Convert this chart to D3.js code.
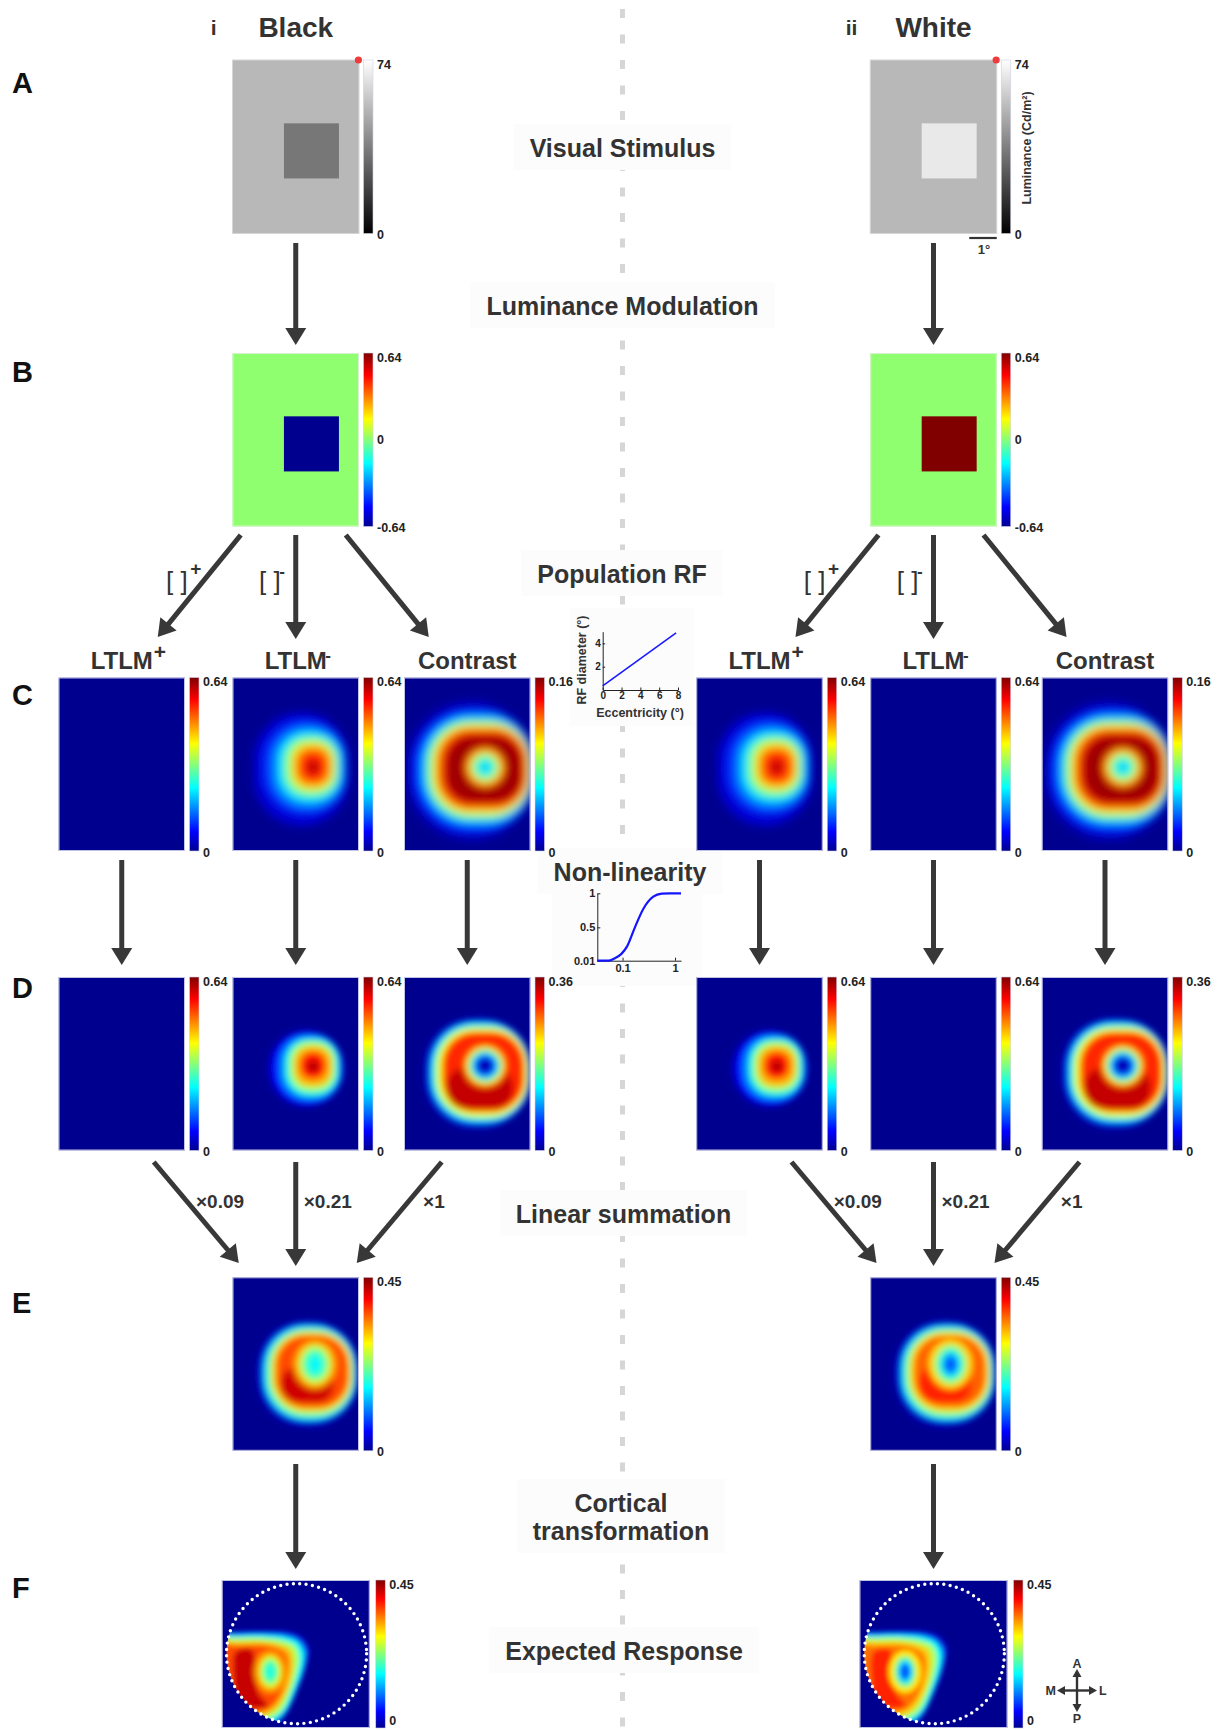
<!DOCTYPE html>
<html>
<head>
<meta charset="utf-8">
<script src="https://cdn.jsdelivr.net/npm/d3@7"></script>
<style>
  html, body { margin: 0; padding: 0; background: #ffffff; }
  svg { display: block; font-family: "Liberation Sans", Arial, sans-serif; }
</style>
</head>
<body>
<svg id="fig" width="1217" height="1730"></svg>
<script>
// ------------------------------------------------------------------
// Data
// ------------------------------------------------------------------
const conditions = ["Black", "White"];
const conditionTags = ["i", "ii"];
const rowLetters = ["A", "B", "C", "D", "E", "F"];
const stageLabels = [["Visual Stimulus"], ["Luminance Modulation"], ["Population RF"],
                     ["Non-linearity"], ["Linear summation"], ["Cortical", "transformation"],
                     ["Expected Response"]];
const channelNames = ["LTLM", "LTLM", "Contrast"];
const channelSigns = ["+", "-", ""];
const rectifierSigns = ["+", "-"];
const weightLabels = ["×0.09", "×0.21", "×1"];

// visual field covered by every map (deg) and the 2° stimulus square
const fieldDeg = [4.6, 6.3];
const squareDeg = [1.87, 2.3, 3.87, 4.3];
const scaleBarDeg = 1;

// A: luminance (Cd/m²)
const luminanceRange = [0, 74];
const luminanceBackground = 53.5;
const luminanceSquare = [34.5, 67.5];          // black, white

// B: luminance modulation
const modulationRange = [-0.64, 0.64];
const modulationBackground = 0;
const modulationSquare = [-0.64, 0.64];

// colour-bar maxima
const ltlmMax = 0.64;
const contrastMaxC = 0.16;
const contrastMaxD = 0.36;
const summedMax = 0.45;
const cortexMax = 0.45;

// population RF size vs eccentricity
const rfEccentricity = [0, 7.8];
const rfDiameter = [0.35, 4.9];
const rfXTicks = [0, 2, 4, 6, 8];
const rfYTicks = [2, 4];

// compressive non-linearity
const nlInput  = [0.033, 0.055, 0.071, 0.095, 0.122, 0.172, 0.248, 0.385, 0.557, 0.8, 1.3];
const nlOutput = [0.01, 0.012, 0.045, 0.11, 0.22, 0.5, 0.77, 0.95, 0.995, 1, 1];
const nlXTicks = [0.1, 1];
const nlYTicks = [0.01, 0.5, 1];

// LTLM response, row C: iso-level outlines [x0, y0, x1, y1, roundness] (deg)
const ltlmRingsC = [
  [0.77, 1.26, 4.23, 5.39, 1.0], [1.13, 1.56, 4.11, 4.96, 1.0], [1.44, 1.80, 4.01, 4.72, 0.95],
  [1.68, 1.99, 3.93, 4.50, 0.9], [1.86, 2.14, 3.85, 4.33, 0.88], [2.02, 2.26, 3.75, 4.18, 0.85],
  [2.17, 2.41, 3.65, 4.05, 0.85], [2.29, 2.53, 3.57, 3.93, 0.85], [2.47, 2.72, 3.38, 3.75, 0.9],
  [2.72, 3.02, 3.14, 3.50, 1.0], [2.84, 3.16, 3.02, 3.36, 1.0]];
const ltlmValuesC = [0.045, 0.10, 0.16, 0.22, 0.29, 0.35, 0.42, 0.48, 0.54, 0.60, 0.63];

// LTLM response after the non-linearity, row D
const ltlmRingsD = [
  [1.26, 1.92, 4.05, 4.74, 1.0], [1.44, 2.00, 4.01, 4.62, 0.95], [1.70, 2.12, 3.94, 4.47, 0.9],
  [1.92, 2.24, 3.85, 4.31, 0.88], [2.10, 2.37, 3.72, 4.13, 0.85], [2.26, 2.53, 3.60, 3.95, 0.85],
  [2.47, 2.73, 3.38, 3.70, 0.9], [2.72, 3.04, 3.14, 3.46, 1.0]];
const ltlmValuesD = [0.026, 0.077, 0.16, 0.256, 0.352, 0.448, 0.544, 0.608];

// contrast response, row C (outer levels, then the central dip)
const contrastRingsC = [
  [0.09, 0.83, 4.75, 5.94, 1.0], [0.33, 1.13, 4.72, 5.63, 0.95], [0.64, 1.38, 4.68, 5.33, 0.9],
  [0.82, 1.53, 4.64, 5.15, 0.88], [1.00, 1.68, 4.58, 4.99, 0.85], [1.15, 1.80, 4.50, 4.84, 0.82],
  [1.37, 1.99, 4.40, 4.66, 0.8], [1.55, 2.15, 4.25, 4.50, 0.8]];
const contrastValuesC = [0.007, 0.024, 0.048, 0.072, 0.096, 0.12, 0.144, 0.155];
const contrastHoleC = [2.95, 3.26];
const contrastHoleRadiiC = [[0.75, 0.75], [0.62, 0.62], [0.5, 0.5], [0.38, 0.38], [0.24, 0.24], [0.13, 0.13]];
const contrastHoleValuesC = [0.13, 0.105, 0.083, 0.066, 0.054, 0.048];

// contrast response after the non-linearity, row D
const contrastRingsD = [
  [0.69, 1.46, 4.62, 5.53, 0.95], [0.88, 1.58, 4.60, 5.37, 0.9], [1.02, 1.70, 4.56, 5.23, 0.88],
  [1.18, 1.84, 4.50, 5.08, 0.85], [1.37, 1.97, 4.40, 4.92, 0.82], [1.47, 2.06, 4.30, 4.84, 0.8],
  [1.55, 3.30, 3.95, 4.78, 0.9]];
const contrastValuesD = [0.014, 0.072, 0.144, 0.216, 0.27, 0.30, 0.335];
const contrastHoleD = [2.95, 3.22];
const contrastHoleRadiiD = [[0.82, 0.82], [0.68, 0.68], [0.58, 0.58], [0.48, 0.48], [0.37, 0.37], [0.24, 0.24]];
const contrastHoleValuesD = [0.28, 0.216, 0.16, 0.108, 0.054, 0.011];

// weighted sum, row E (black, white)
const summedRings = [
  [0.86, 1.56, 4.58, 5.45, 0.95], [1.05, 1.68, 4.53, 5.27, 0.92], [1.18, 1.80, 4.45, 5.15, 0.9],
  [1.34, 1.92, 4.37, 4.99, 0.88], [1.47, 2.02, 4.30, 4.84, 0.85], [1.62, 2.14, 4.18, 4.70, 0.82],
  [1.76, 3.26, 3.66, 4.54, 0.9]];
const summedValues = [[0.018, 0.09, 0.18, 0.248, 0.315, 0.36, 0.414],
                      [0.018, 0.09, 0.18, 0.248, 0.306, 0.35, 0.378]];
const summedHole = [[3.0, 3.16], [2.92, 3.16]];
const summedHoleRadii = [[0.8, 0.9], [0.6, 0.72], [0.47, 0.58], [0.32, 0.42], [0.18, 0.25]];
const summedHoleValues = [[0.324, 0.261, 0.21, 0.18, 0.162],
                          [0.297, 0.234, 0.18, 0.126, 0.081]];

// expected cortical response, row F (mm on the cortical sheet, 15 mm window)
const cortexExtent = 15;
const cortexWindow = [7.58, 7.47, 7.1];      // cx, cy, r of the V1 boundary
const cortexPolys = [
  [[-1.0, 4.86], [0.71, 5.14], [3.61, 5.07], [6.79, 5.17], [8.11, 5.67], [8.92, 6.79], [8.76, 8.31],
   [8.11, 10.33], [7.29, 12.26], [6.48, 13.88], [5.57, 14.89], [3.55, 16.2], [-1.0, 16.2]],
  [[-1.01, 5.27], [0.81, 5.37], [3.65, 5.32], [6.69, 5.47], [7.9, 5.98], [8.61, 6.99], [8.51, 8.41],
   [7.9, 10.33], [7.09, 12.16], [6.28, 13.68], [5.27, 14.49], [-1.01, 15.2]],
  [[-1.01, 5.57], [1.01, 5.62], [3.85, 5.57], [6.48, 5.78], [7.7, 6.28], [8.31, 7.29], [8.11, 9.12],
   [7.4, 11.14], [6.59, 12.97], [5.57, 14.08], [4.05, 14.79], [-1.01, 14.79]],
  [[-1.01, 5.88], [1.22, 5.88], [4.05, 5.88], [6.28, 6.18], [7.4, 6.69], [7.8, 7.8], [7.5, 9.73],
   [6.79, 11.75], [5.98, 13.27], [4.86, 13.98], [3.04, 14.39], [-1.01, 14.39]],
  [[-1.01, 6.28], [1.42, 6.28], [4.26, 6.28], [5.88, 6.59], [6.89, 7.09], [7.19, 8.31], [6.89, 10.33],
   [6.08, 12.26], [5.07, 13.37], [3.65, 13.78], [-1.01, 13.78]],
  [[-1.01, 6.69], [1.62, 6.69], [4.46, 6.69], [5.67, 6.99], [6.48, 7.6], [6.69, 8.92], [6.28, 10.74],
   [5.47, 12.36], [4.46, 13.17], [-1.01, 13.37]],
  [[1.42, 7.29], [3.04, 7.09], [3.44, 9.12], [3.65, 11.35], [4.66, 12.77], [3.04, 12.97], [1.62, 12.36],
   [1.22, 10.13]]];
const cortexValues = [[0.0225, 0.09, 0.171, 0.248, 0.315, 0.36, 0.418],
                      [0.0225, 0.09, 0.171, 0.248, 0.306, 0.342, 0.378]];
const cortexHole = [[4.92, 9.29], [4.62, 9.29]];
const cortexHoleRadii = [[1.67, 2.18], [1.11, 1.62], [0.81, 1.22], [0.51, 0.81]];
const cortexHoleValues = [[0.324, 0.261, 0.21, 0.18], [0.29, 0.22, 0.15, 0.09]];

// ------------------------------------------------------------------
// Layout
// ------------------------------------------------------------------
const colCenter = [295.75, 933.5];
const subOffset = [-174, 0, 171.5];
const mapW = 126.5, mapH = 173.5;
const rowTop = [60, 353, 677.5, 977, 1277.3, 1580];
const rowLetterBase = [93, 382, 705, 998, 1313, 1598];
const cbGap = 4.5, cbW = 9.5;
const fSize = 148;
const ink = "#333333";
const arrowInk = "#383838";
const boxFill = "#fcfcfc";

const svg = d3.select("#fig");
const defs = svg.append("defs");
let uid = 0;

// MATLAB-style jet colour map
const jetStops = [0, 7 / 63, 23 / 63, 39 / 63, 55 / 63, 1];
const jetColors = ["#00008f", "#0000ff", "#00ffff", "#ffff00", "#ff0000", "#800000"];
const jet = d3.scaleLinear().domain(jetStops).range(jetColors).interpolate(d3.interpolateRgb).clamp(true);
const jet64 = t => jet(Math.min(63, Math.floor(t * 64)) / 63);

const jetGrad = defs.append("linearGradient").attr("id", "jetGrad")
  .attr("x1", 0).attr("y1", 1).attr("x2", 0).attr("y2", 0);
jetStops.forEach((t, i) => jetGrad.append("stop").attr("offset", t).attr("stop-color", jetColors[i]));
const grayGrad = defs.append("linearGradient").attr("id", "grayGrad")
  .attr("x1", 0).attr("y1", 1).attr("x2", 0).attr("y2", 0);
grayGrad.append("stop").attr("offset", 0).attr("stop-color", "#000");
grayGrad.append("stop").attr("offset", 1).attr("stop-color", "#fff");

function blurFilter(sd) {
  const id = "soft" + String(sd).replace(".", "_");
  if (defs.select("#" + id).empty()) {
    defs.append("filter").attr("id", id)
      .attr("x", "-30%").attr("y", "-30%").attr("width", "160%").attr("height", "160%")
      .append("feGaussianBlur").attr("stdDeviation", sd);
  }
  return id;
}

// ------------------------------------------------------------------
// Background: dashed divider and stage labels
// ------------------------------------------------------------------
svg.append("line")
  .attr("x1", 622.5).attr("x2", 622.5).attr("y1", 9).attr("y2", 1730)
  .attr("stroke", "#d6d6d6").attr("stroke-width", 5).attr("stroke-dasharray", "9 16.5");

const stageX = [622.5, 622.5, 622, 630, 623.5, 621, 624];
const stageY = [157, 315, 583, 881, 1223, 1512, 1660];
const labelLayer = svg.append("g");
stageLabels.forEach((lines, i) => {
  const g = labelLayer.append("g");
  const bg = g.append("rect").attr("fill", boxFill);
  const t = g.append("text").attr("text-anchor", "middle").attr("font-size", 25)
    .attr("font-weight", "bold").attr("fill", ink);
  lines.forEach((ln, k) => t.append("tspan").attr("x", stageX[i]).attr("y", stageY[i] + k * 28).text(ln));
  const bb = t.node().getBBox();
  bg.attr("x", bb.x - 16).attr("y", bb.y - 10).attr("width", bb.width + 32).attr("height", bb.height + 18);
});

// ------------------------------------------------------------------
// Insets: RF size and non-linearity
// ------------------------------------------------------------------
(function rfInset() {
  svg.append("rect").attr("x", 570).attr("y", 608).attr("width", 124).attr("height", 118).attr("fill", boxFill);
  const x = d3.scaleLinear().domain([0, 8]).range([602.7, 678]);
  const y = d3.scaleLinear().domain([0, 5]).range([690, 631.7]);
  const g = svg.append("g").attr("font-weight", "bold");
  const ax = g.append("g").attr("transform", "translate(0,690)")
    .call(d3.axisBottom(x).tickValues(rfXTicks).tickFormat(d3.format("d")).tickSizeInner(-2.5).tickSizeOuter(0).tickPadding(2));
  const ay = g.append("g").attr("transform", "translate(602.7,0)")
    .call(d3.axisLeft(y).tickValues(rfYTicks).tickFormat(d3.format("d")).tickSizeInner(-2.5).tickSizeOuter(0).tickPadding(2));
  [ax, ay].forEach(a => {
    a.selectAll("text").attr("font-size", 10).attr("font-family", "Liberation Sans, Arial, sans-serif")
      .attr("font-weight", "bold").attr("fill", "#222");
    a.selectAll("path,line").attr("stroke", "#222");
  });
  g.append("path")
    .datum(rfEccentricity.map((e, i) => [e, rfDiameter[i]]))
    .attr("d", d3.line().x(d => x(d[0])).y(d => y(d[1])))
    .attr("fill", "none").attr("stroke", "#1a1aff").attr("stroke-width", 1.6);
  g.append("text").attr("transform", "translate(586,660) rotate(-90)").attr("text-anchor", "middle")
    .attr("font-size", 12.5).attr("fill", ink).text("RF diameter (°)");
  g.append("text").attr("x", 640).attr("y", 716.5).attr("text-anchor", "middle")
    .attr("font-size", 12.5).attr("fill", ink).text("Eccentricity (°)");
})();

(function nlInset() {
  svg.append("rect").attr("x", 552).attr("y", 886).attr("width", 150).attr("height", 100).attr("fill", boxFill);
  const x = d3.scaleLog().domain([0.033, 1.3]).range([597.3, 681]);
  const y = d3.scaleLinear().domain([0.01, 1]).range([960.7, 893.3]);
  const g = svg.append("g");
  const ax = g.append("g").attr("transform", "translate(0,960.7)")
    .call(d3.axisBottom(x).tickValues(nlXTicks).tickFormat(d3.format("")).tickSizeInner(-3).tickSizeOuter(0).tickPadding(4));
  const ay = g.append("g").attr("transform", "translate(597.3,0)")
    .call(d3.axisLeft(y).tickValues(nlYTicks).tickFormat(d3.format("")).tickSizeInner(-3).tickSizeOuter(0).tickPadding(2));
  [ax, ay].forEach(a => {
    a.selectAll("text").attr("font-size", 11).attr("font-family", "Liberation Sans, Arial, sans-serif")
      .attr("font-weight", "bold").attr("fill", "#222");
    a.selectAll("path,line").attr("stroke", "#222");
  });
  g.append("path")
    .datum(nlInput.map((v, i) => [v, nlOutput[i]]))
    .attr("d", d3.line().x(d => x(d[0])).y(d => y(d[1])).curve(d3.curveMonotoneX))
    .attr("fill", "none").attr("stroke", "#1414ff").attr("stroke-width", 2.2);
})();

// ------------------------------------------------------------------
// Drawing helpers
// ------------------------------------------------------------------
function ringLayers(geom, values) {
  return geom.map((r, i) => ({ kind: "rrect", v: values[i], x0: r[0], y0: r[1], x1: r[2], y1: r[3], round: r[4] }));
}
function holeLayers(centre, radii, values) {
  return radii.map((r, i) => ({ kind: "ellipse", v: values[i], cx: centre[0], cy: centre[1], rx: r[0], ry: r[1] }));
}
function polyLayers(polys, values) {
  return polys.map((p, i) => ({ kind: "poly", v: values[i], pts: p }));
}

function heatmap(px, py, w, h, extent, max, layers, blur, windowCircle) {
  const xs = d3.scaleLinear().domain([0, extent[0]]).range([0, w]);
  const ys = d3.scaleLinear().domain([0, extent[1]]).range([0, h]);
  const color = v => jet(v / max);
  const g = svg.append("g").attr("transform", `translate(${px},${py})`);
  const cid = "clip" + (uid++);
  defs.append("clipPath").attr("id", cid).append("rect").attr("width", w).attr("height", h);
  const body = g.append("g").attr("clip-path", `url(#${cid})`);
  body.append("rect").attr("width", w).attr("height", h).attr("fill", color(0));
  let target = body;
  if (windowCircle) {
    const wid = "clip" + (uid++);
    defs.append("clipPath").attr("id", wid).append("circle")
      .attr("cx", xs(windowCircle[0])).attr("cy", ys(windowCircle[1])).attr("r", xs(windowCircle[2]));
    target = body.append("g").attr("clip-path", `url(#${wid})`);
  }
  const soft = target.append("g").attr("filter", `url(#${blurFilter(blur)})`);
  const lineGen = d3.line().x(p => xs(p[0])).y(p => ys(p[1])).curve(d3.curveCatmullRomClosed.alpha(0.5));
  layers.forEach(L => {
    if (L.kind === "rrect") {
      const x = xs(L.x0), y = ys(L.y0), rw = xs(L.x1) - x, rh = ys(L.y1) - y;
      const r = L.round * Math.min(rw, rh) / 2;
      soft.append("rect").attr("x", x).attr("y", y).attr("width", rw).attr("height", rh)
        .attr("rx", r).attr("ry", r).attr("fill", color(L.v));
    } else if (L.kind === "ellipse") {
      soft.append("ellipse").attr("cx", xs(L.cx)).attr("cy", ys(L.cy))
        .attr("rx", xs(L.rx)).attr("ry", ys(L.ry)).attr("fill", color(L.v));
    } else {
      soft.append("path").attr("d", lineGen(L.pts)).attr("fill", color(L.v));
    }
  });
  g.append("rect").attr("x", 0.5).attr("y", 0.5).attr("width", w - 1).attr("height", h - 1)
    .attr("fill", "none").attr("stroke", "#c2c2e4").attr("stroke-width", 1);
  return { g, xs, ys };
}

function colorbar(x, y, h, domain, ticks, gradId, bottomDy = 5.5) {
  const s = d3.scaleLinear().domain(domain).range([y + h, y]);
  svg.append("rect").attr("x", x).attr("y", y).attr("width", cbW).attr("height", h)
    .attr("fill", `url(#${gradId})`).attr("stroke", "#d0d0e6").attr("stroke-width", 0.6);
  svg.append("g").selectAll("text").data(ticks).join("text")
    .attr("x", x + cbW + 4)
    .attr("y", d => s(d) + (d === domain[1] ? 8.5 : d === domain[0] ? bottomDy : 4.5))
    .attr("font-size", 12.5).attr("font-weight", "bold").attr("fill", "#222")
    .text(d => String(d));
}

function arrow(x1, y1, x2, y2, opt = {}) {
  const hl = opt.hl || 17, hw = opt.hw || 21, sw = opt.sw || 5;
  const a = Math.atan2(y2 - y1, x2 - x1), c = Math.cos(a), s = Math.sin(a);
  const bx = x2 - hl * c, by = y2 - hl * s;
  svg.append("line").attr("x1", x1).attr("y1", y1).attr("x2", bx + c).attr("y2", by + s)
    .attr("stroke", opt.color || arrowInk).attr("stroke-width", sw);
  svg.append("path")
    .attr("d", `M${x2},${y2}L${bx - hw / 2 * s},${by + hw / 2 * c}L${bx + hw / 2 * s},${by - hw / 2 * c}Z`)
    .attr("fill", opt.color || arrowInk);
}

// ------------------------------------------------------------------
// Row letters
// ------------------------------------------------------------------
svg.append("g").selectAll("text").data(rowLetters).join("text")
  .attr("x", 12).attr("y", (d, i) => rowLetterBase[i])
  .attr("font-size", 29).attr("font-weight", "bold").attr("fill", "#111").text(d => d);

// ------------------------------------------------------------------
// Columns: black and white stimulus
// ------------------------------------------------------------------
conditions.forEach((cond, j) => {
  const cx = colCenter[j];
  const left = cx - mapW / 2;

  // column headings
  svg.append("text").attr("x", cx).attr("y", 37).attr("text-anchor", "middle")
    .attr("font-size", 28).attr("font-weight", "bold").attr("fill", ink).text(cond);
  svg.append("text").attr("x", cx - 82).attr("y", 35).attr("text-anchor", "middle")
    .attr("font-size", 21).attr("font-weight", "bold").attr("fill", ink).text(conditionTags[j]);

  // A: visual stimulus
  {
    const xs = d3.scaleLinear().domain([0, fieldDeg[0]]).range([0, mapW]);
    const ys = d3.scaleLinear().domain([0, fieldDeg[1]]).range([0, mapH]);
    const gray = d3.scaleLinear().domain(luminanceRange).range(["#000", "#fff"]);
    const g = svg.append("g").attr("transform", `translate(${left},${rowTop[0]})`);
    g.append("rect").attr("width", mapW).attr("height", mapH).attr("fill", gray(luminanceBackground))
      .attr("stroke", "#d6d6d6").attr("stroke-width", 1);
    g.append("rect").attr("x", xs(squareDeg[0])).attr("y", ys(squareDeg[1]))
      .attr("width", xs(squareDeg[2]) - xs(squareDeg[0])).attr("height", ys(squareDeg[3]) - ys(squareDeg[1]))
      .attr("fill", gray(luminanceSquare[j]));
    g.append("circle").attr("cx", xs(fieldDeg[0]) - 0.6).attr("cy", 0).attr("r", 3.6).attr("fill", "#ee3b3b");
    colorbar(left + mapW + cbGap, rowTop[0], mapH, luminanceRange, [0, 74], "grayGrad");
    if (j === 1) {
      svg.append("text").attr("transform", `translate(${left + mapW + cbGap + cbW + 20},${rowTop[0] + 88}) rotate(-90)`)
        .attr("text-anchor", "middle").attr("font-size", 12.5).attr("font-weight", "bold").attr("fill", ink)
        .text("Luminance (Cd/m²)");
      const sb0 = left + xs(fieldDeg[0] - scaleBarDeg), sb1 = left + xs(fieldDeg[0]);
      svg.append("line").attr("x1", sb0).attr("x2", sb1).attr("y1", rowTop[0] + mapH + 4.5).attr("y2", rowTop[0] + mapH + 4.5)
        .attr("stroke", ink).attr("stroke-width", 2.2);
      svg.append("text").attr("x", (sb0 + sb1) / 2 + 1).attr("y", rowTop[0] + mapH + 20).attr("text-anchor", "middle")
        .attr("font-size", 13).attr("font-weight", "bold").attr("fill", ink).text(scaleBarDeg + "°");
    }
  }

  // B: luminance modulation
  {
    const xs = d3.scaleLinear().domain([0, fieldDeg[0]]).range([0, mapW]);
    const ys = d3.scaleLinear().domain([0, fieldDeg[1]]).range([0, mapH]);
    const norm = d3.scaleLinear().domain(modulationRange).range([0, 1]).clamp(true);
    const g = svg.append("g").attr("transform", `translate(${left},${rowTop[1]})`);
    g.append("rect").attr("width", mapW).attr("height", mapH).attr("fill", jet64(norm(modulationBackground)));
    g.append("rect").attr("x", xs(squareDeg[0])).attr("y", ys(squareDeg[1]))
      .attr("width", xs(squareDeg[2]) - xs(squareDeg[0])).attr("height", ys(squareDeg[3]) - ys(squareDeg[1]))
      .attr("fill", jet64(norm(modulationSquare[j])));
    g.append("rect").attr("x", 0.5).attr("y", 0.5).attr("width", mapW - 1).attr("height", mapH - 1)
      .attr("fill", "none").attr("stroke", "#d8f0d0").attr("stroke-width", 1);
    colorbar(left + mapW + cbGap, rowTop[1], mapH, modulationRange, [-0.64, 0, 0.64], "jetGrad");
  }

  // rows C and D: LTLM+, LTLM-, contrast
  const ltlmActive = [j === 1, j === 0];
  [2, 3].forEach(row => {
    subOffset.forEach((off, k) => {
      const px = cx + off - mapW / 2;
      let layers = [], max, blur;
      if (k < 2) {
        max = ltlmMax;
        blur = row === 2 ? 4.5 : 3;
        if (ltlmActive[k]) layers = row === 2 ? ringLayers(ltlmRingsC, ltlmValuesC) : ringLayers(ltlmRingsD, ltlmValuesD);
      } else if (row === 2) {
        max = contrastMaxC; blur = 4;
        layers = ringLayers(contrastRingsC, contrastValuesC)
          .concat(holeLayers(contrastHoleC, contrastHoleRadiiC, contrastHoleValuesC));
      } else {
        max = contrastMaxD; blur = 3.2;
        layers = ringLayers(contrastRingsD, contrastValuesD)
          .concat(holeLayers(contrastHoleD, contrastHoleRadiiD, contrastHoleValuesD));
      }
      heatmap(px, rowTop[row], mapW, mapH, fieldDeg, max, layers, blur);
      colorbar(px + mapW + cbGap, rowTop[row], mapH, [0, max], [0, max], "jetGrad");
    });
  });

  // C-row channel titles
  subOffset.forEach((off, k) => {
    const tx = cx + off;
    svg.append("text").attr("x", tx).attr("y", 668.5).attr("text-anchor", "middle")
      .attr("font-size", 24).attr("font-weight", "bold").attr("fill", ink).text(channelNames[k]);
    if (channelSigns[k] === "+") {
      svg.append("text").attr("x", tx + 32).attr("y", 659).attr("font-size", 21)
        .attr("font-weight", "bold").attr("fill", ink).text("+");
    } else if (channelSigns[k] === "-") {
      svg.append("text").attr("x", tx + 29.5).attr("y", 661).attr("font-size", 17)
        .attr("font-weight", "bold").attr("fill", ink).text("-");
    }
  });

  // E: weighted sum
  heatmap(left, rowTop[4], mapW, mapH, fieldDeg, summedMax,
    ringLayers(summedRings, summedValues[j])
      .concat(holeLayers(summedHole[j], summedHoleRadii, summedHoleValues[j])), 3.4);
  colorbar(left + mapW + cbGap, rowTop[4], mapH, [0, summedMax], [0, summedMax], "jetGrad");

  // F: expected cortical response
  const fx = cx - fSize / 2;
  const f = heatmap(fx, rowTop[5], fSize, fSize, [cortexExtent, cortexExtent], cortexMax,
    polyLayers(cortexPolys, cortexValues[j])
      .concat(holeLayers(cortexHole[j], cortexHoleRadii, cortexHoleValues[j])), 2.8, cortexWindow);
  f.g.append("circle").attr("cx", f.xs(cortexWindow[0])).attr("cy", f.ys(cortexWindow[1]))
    .attr("r", f.xs(cortexWindow[2])).attr("fill", "none").attr("stroke", "#ffffff")
    .attr("stroke-width", 3.4).attr("stroke-linecap", "round").attr("stroke-dasharray", "0 6.4");
  colorbar(fx + fSize + 6, rowTop[5], fSize, [0, cortexMax], [0, cortexMax], "jetGrad", -3.5);

  // arrows between stages
  arrow(cx, 243, cx, 345);
  arrow(cx - 55, 535, cx - 138, 637);
  arrow(cx, 535, cx, 639);
  arrow(cx + 50, 535, cx + 133, 637);
  subOffset.forEach(off => arrow(cx + off, 860, cx + off, 965));
  arrow(cx - 142, 1162, cx - 57, 1263);
  arrow(cx, 1162, cx, 1266);
  arrow(cx + 146, 1162, cx + 61, 1263);
  arrow(cx, 1464, cx, 1569);

  // rectification labels
  [[-129.75, -105.5], [-36.75, -16.5]].forEach((pos, k) => {
    svg.append("text").attr("x", cx + pos[0]).attr("y", 590).attr("font-size", 26)
      .attr("fill", ink).text("[ ]");
    svg.append("text").attr("x", cx + pos[1]).attr("y", rectifierSigns[k] === "+" ? 575 : 577)
      .attr("font-size", rectifierSigns[k] === "+" ? 19 : 17).attr("font-weight", "bold")
      .attr("fill", ink).text(rectifierSigns[k]);
  });

  // weights of the linear summation
  [-99.75, 8, 127.3].forEach((dx, k) => {
    svg.append("text").attr("x", cx + dx).attr("y", 1208).attr("font-size", 19)
      .attr("font-weight", "bold").attr("fill", ink).text(weightLabels[k]);
  });
});

// orientation cross for the cortical maps
(function compass() {
  const c = [1077, 1690.5];
  const o = { hl: 8, hw: 9, sw: 2.4, color: "#333" };
  arrow(c[0], c[1], c[0], 1669, o);
  arrow(c[0], c[1], c[0], 1712, o);
  arrow(c[0], c[1], 1057, c[1], o);
  arrow(c[0], c[1], 1097, c[1], o);
  const t = svg.append("g").attr("font-size", 12.5).attr("font-weight", "bold").attr("fill", "#333");
  t.append("text").attr("x", c[0]).attr("y", 1667.5).attr("text-anchor", "middle").text("A");
  t.append("text").attr("x", c[0]).attr("y", 1723).attr("text-anchor", "middle").text("P");
  t.append("text").attr("x", 1056).attr("y", c[1] + 4.5).attr("text-anchor", "end").text("M");
  t.append("text").attr("x", 1099).attr("y", c[1] + 4.5).text("L");
})();
</script>
</body>
</html>
